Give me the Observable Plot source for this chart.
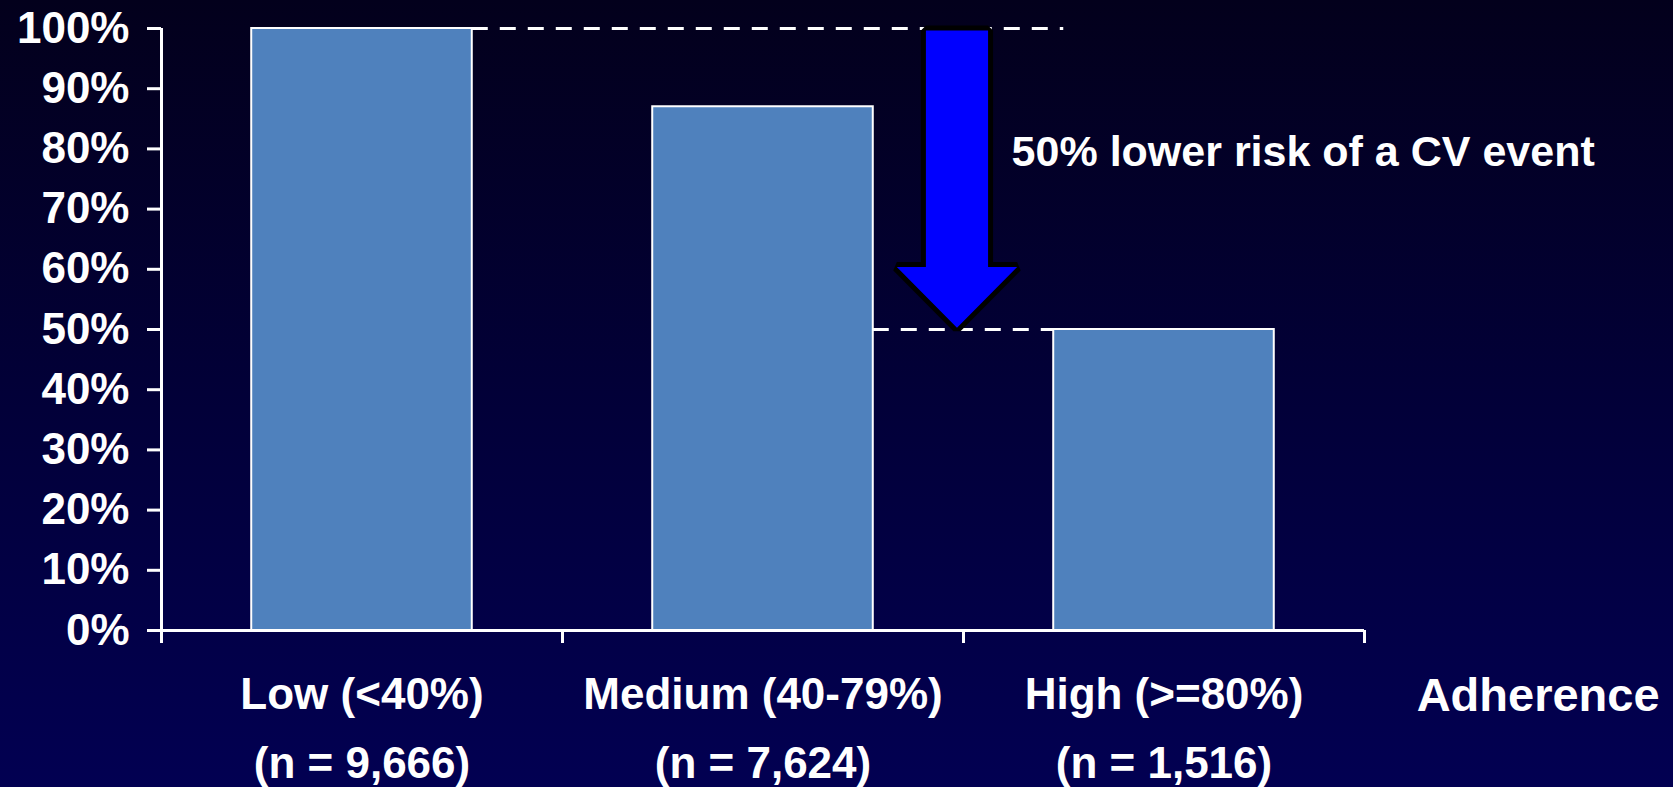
<!DOCTYPE html>
<html>
<head>
<meta charset="utf-8">
<script src="https://cdn.jsdelivr.net/npm/d3@7"></script>
<script src="https://cdn.jsdelivr.net/npm/@observablehq/plot@0.6"></script>
<style>
  html, body { margin: 0; padding: 0; }
  body {
    width: 1673px; height: 787px; overflow: hidden;
    background: linear-gradient(to bottom, #03001c 0%, #020038 50%, #020052 100%);
  }
</style>
</head>
<body>
<div id="chart"></div>
<script>
// Adherence groups, relative CV event risk, and group sizes
const categories = ["Low (<40%)", "Medium (40-79%)", "High (>=80%)"];
const relativeRisk = [1.00, 0.87, 0.50];
const groupSizes = [9666, 7624, 1516];
const yTicks = [0, 0.1, 0.2, 0.3, 0.4, 0.5, 0.6, 0.7, 0.8, 0.9, 1.0];
const axisTitle = "Adherence";

const pct = d3.format(".0%");
const comma = d3.format(",");

// Each category occupies one unit on x; bars take the middle 55% of it
const pad = 0.225;
const rows = categories.map((c, i) => ({
  cat: c, i, value: relativeRisk[i], n: groupSizes[i],
  x1: i + pad, x2: i + 1 - pad, xc: i + 0.5
}));

const low = rows[0], mid = rows[1], high = rows[2];
const reduction = 1 - high.value / low.value;

// Block arrow from the Low level down to the High level
const ax = 1.985, shaftHalf = 0.0775, headHalf = 0.15, headTop = 0.603;
const arrow = [
  {y: low.value - 0.004, x1: ax - shaftHalf, x2: ax + shaftHalf},
  {y: headTop, x1: ax - shaftHalf, x2: ax + shaftHalf},
  {y: headTop, x1: ax - headHalf, x2: ax + headHalf},
  {y: high.value + 0.002, x1: ax, x2: ax}
];

const chart = Plot.plot({
  width: 1673,
  height: 787,
  marginLeft: 161,
  marginRight: 309,
  marginTop: 28,
  marginBottom: 157,
  style: {
    background: "transparent",
    color: "white",
    fontFamily: "'Liberation Sans', Arial, sans-serif",
    fontWeight: "bold",
    fontSize: "44px",
    overflow: "visible"
  },
  x: {type: "linear", domain: [0, categories.length], axis: null},
  y: {type: "linear", domain: [0, 1], axis: null},
  marks: [
    // bars
    Plot.rectY(rows, {x1: "x1", x2: "x2", y1: 0, y2: "value",
      fill: "#4f81bd", stroke: "white", strokeWidth: 2}),
    // reference lines at the Low and High levels
    Plot.ruleY([low.value], {x1: low.x2, x2: 2.25, stroke: "white",
      strokeWidth: 3, strokeDasharray: "16,12"}),
    Plot.ruleY([high.value], {x1: mid.x2, x2: high.x1, stroke: "white",
      strokeWidth: 3, strokeDasharray: "16,12"}),
    // arrow
    Plot.areaX(arrow, {y: "y", x1: "x1", x2: "x2", curve: "linear",
      fill: "#0000ff", stroke: "black", strokeWidth: 10,
      strokeLinejoin: "miter", paintOrder: "stroke"}),
    Plot.text([`${pct(reduction)} lower risk of a CV event`], {
      x: 2.12, y: 0.795, text: d => d, textAnchor: "start",
      fill: "white", fontSize: 43}),
    // y axis
    Plot.ruleX([0], {stroke: "white", strokeWidth: 3}),
    Plot.axisY({ticks: yTicks, tickFormat: pct, tickSize: 14, tickPadding: 18,
      strokeWidth: 3, stroke: "white", fill: "white", fontSize: 44}),
    // x axis with ticks at the category boundaries
    Plot.ruleY([0], {stroke: "white", strokeWidth: 3}),
    Plot.axisX({ticks: d3.range(categories.length + 1), tickFormat: () => "",
      tickSize: 13, strokeWidth: 3, stroke: "white"}),
    // category labels
    Plot.text(rows, {x: "xc", y: 0, text: d => `${d.cat}\n(n = ${comma(d.n)})`,
      lineAnchor: "top", lineHeight: 1.58, dy: 29, fill: "white", fontSize: 44}),
    Plot.text([axisTitle], {x: 3.13, y: 0, text: d => d, textAnchor: "start",
      lineAnchor: "middle", dy: 65, fill: "white", fontSize: 47})
  ]
});

document.getElementById("chart").append(chart);
</script>
</body>
</html>
